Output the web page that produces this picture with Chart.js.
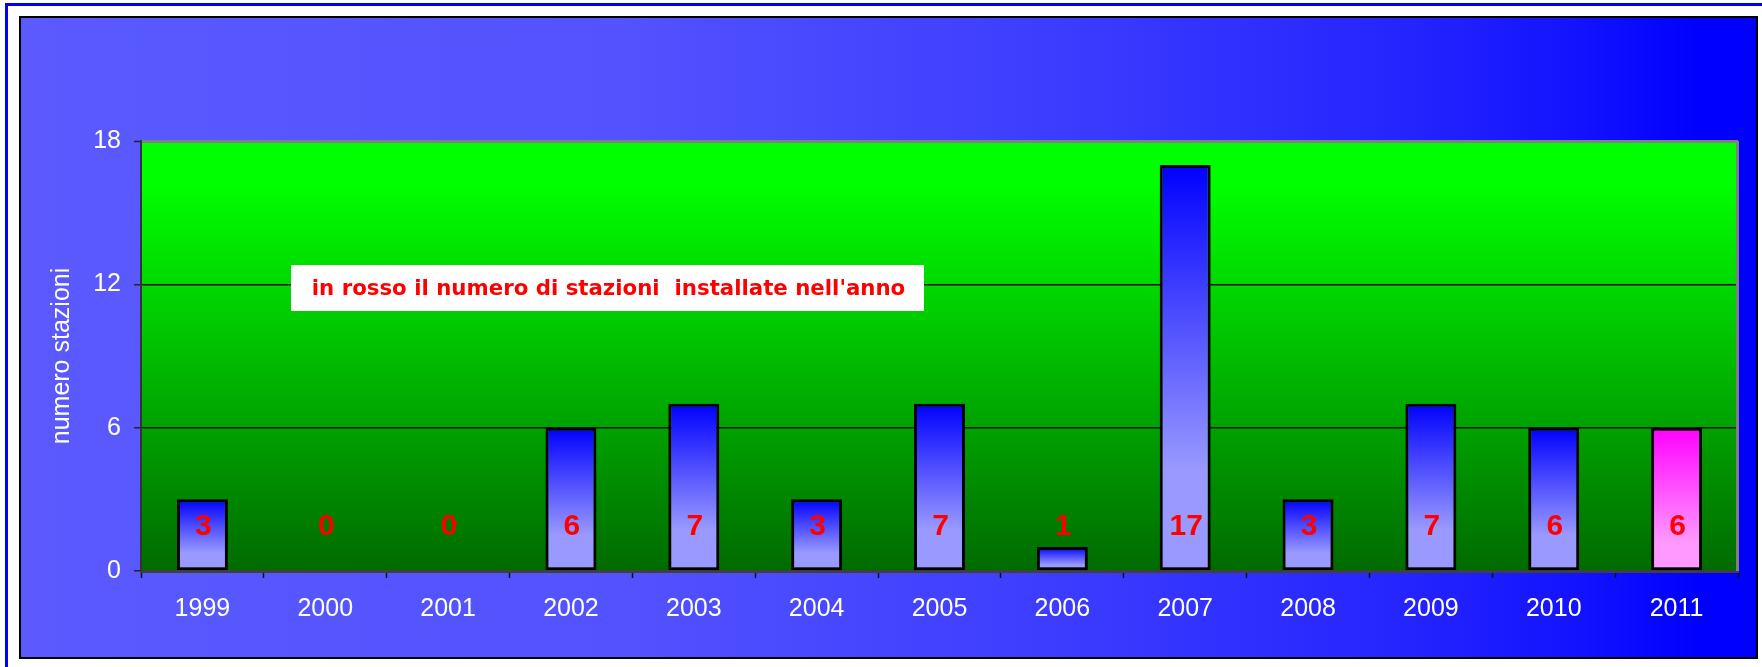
<!DOCTYPE html>
<html>
<head>
<meta charset="utf-8">
<script src="https://cdn.jsdelivr.net/npm/chart.js@4.4.1/dist/chart.umd.min.js"></script>
<style>
html, body { margin: 0; padding: 0; background: #fff; }
#wrap { width: 1762px; height: 667px; }
</style>
</head>
<body>
<div id="wrap"><canvas id="stazioniChart" width="1762" height="667"></canvas></div>
<script>
const anni = ['1999', '2000', '2001', '2002', '2003', '2004', '2005', '2006', '2007', '2008', '2009', '2010', '2011'];
const stazioni = [3, 0, 0, 6, 7, 3, 7, 1, 17, 3, 7, 6, 6];
const yTicks = [0, 6, 12, 18];
const titoloY = 'numero stazioni';
const nota = "in rosso il numero di stazioni  installate nell'anno";

const fontAssi = '"Liberation Sans", Arial, sans-serif';
const livelloEtichette = 1.85; // height (in axis units) where the red numbers sit

function barGradient(c) {
    let chart = c.chart;
    if (!chart.chartArea) return '#0000ff';
    let y = chart.scales.y;
    let top = y.getPixelForValue(stazioni[c.dataIndex]);
    let bottom = y.getPixelForValue(0);
    if (bottom - top < 1) top = bottom - 1;
    let g = chart.ctx.createLinearGradient(0, top, 0, bottom);
    if (c.dataIndex === anni.length - 1) {
        g.addColorStop(0, '#ff00ff');
        g.addColorStop(0.8, '#ff99ff');
        g.addColorStop(1, '#ff99ff');
    } else {
        g.addColorStop(0, '#0000ff');
        g.addColorStop(0.75, '#9999ff');
        g.addColorStop(1, '#9999ff');
    }
    return g;
}

const sfondo = {
    id: 'sfondo',
    beforeDraw(chart) {
        let ctx = chart.ctx;
        let a = chart.chartArea;
        ctx.save();
        ctx.fillStyle = '#ffffff';
        ctx.fillRect(0, 0, chart.width, chart.height);
        // outer blue frame
        ctx.strokeStyle = '#0000ff';
        ctx.lineWidth = 3;
        ctx.beginPath();
        ctx.moveTo(6.5, chart.height);
        ctx.lineTo(6.5, 4.5);
        ctx.lineTo(chart.width, 4.5);
        ctx.stroke();
        // blue panel
        let g = ctx.createLinearGradient(20, 0, 1757, 0);
        g.addColorStop(0, '#5a5aff');
        g.addColorStop(0.35, '#5252ff');
        g.addColorStop(0.6, '#3c3cff');
        g.addColorStop(0.8, '#2424ff');
        g.addColorStop(0.9, '#1212ff');
        g.addColorStop(0.965, '#0000ff');
        g.addColorStop(1, '#0000ff');
        ctx.fillStyle = g;
        ctx.fillRect(20, 17, 1737, 641);
        ctx.strokeStyle = '#000';
        ctx.lineWidth = 2;
        ctx.strokeRect(20, 17, 1737, 641);
        // plot area
        let gv = ctx.createLinearGradient(0, a.top, 0, a.bottom);
        gv.addColorStop(0, '#00ff00');
        gv.addColorStop(0.1, '#00ff00');
        gv.addColorStop(1, '#006a00');
        ctx.fillStyle = gv;
        ctx.fillRect(a.left, a.top, a.right - a.left, a.bottom - a.top);
        ctx.restore();
    },
    afterDatasetsDraw(chart) {
        let ctx = chart.ctx;
        let a = chart.chartArea;
        let x = chart.scales.x;
        let y = chart.scales.y;
        ctx.save();
        // right border of plot area
        ctx.strokeStyle = '#808080';
        ctx.lineWidth = 3;
        ctx.beginPath();
        ctx.moveTo(a.right - 0.5, a.top);
        ctx.lineTo(a.right - 0.5, a.bottom);
        ctx.stroke();
        // red numbers
        ctx.fillStyle = '#ff0000';
        ctx.font = 'bold 30px ' + fontAssi;
        ctx.textAlign = 'center';
        ctx.textBaseline = 'middle';
        stazioni.forEach(function (v, i) {
            ctx.fillText(String(v), x.getPixelForValue(i) + 1, y.getPixelForValue(livelloEtichette));
        });
        // note box
        let bx = a.left + 150, by = a.top + 124, bw = 633, bh = 46;
        ctx.fillStyle = '#ffffff';
        ctx.fillRect(bx, by, bw, bh);
        ctx.fillStyle = '#ff0000';
        ctx.font = 'bold 21.3px "DejaVu Sans", Verdana, sans-serif';
        ctx.fillText(nota, bx + bw / 2 + 1, by + bh / 2 + 1, 598);
        ctx.restore();
    }
};

let chart = document.getElementById('stazioniChart').getContext('2d');
let myBarChart = new Chart(chart, {
    type: 'bar',
    data: {
        labels: anni,
        datasets: [{
            label: titoloY,
            data: stazioni,
            backgroundColor: barGradient,
            borderColor: '#000000',
            borderWidth: 3,
            borderSkipped: false,
            categoryPercentage: 1,
            barPercentage: 0.415
        }]
    },
    options: {
        responsive: false,
        animation: false,
        devicePixelRatio: 1,
        layout: { padding: { top: 141, left: 20, right: 24, bottom: 0 } },
        plugins: {
            legend: { display: false },
            tooltip: { enabled: false }
        },
        scales: {
            x: {
                afterFit: function (s) { s.height = 96; },
                grid: {
                    display: true,
                    drawOnChartArea: false,
                    drawTicks: true,
                    tickLength: 7,
                    tickColor: '#111',
                    tickWidth: 1.5
                },
                border: { display: true, color: '#404040', width: 3 },
                ticks: {
                    color: '#ffffff',
                    font: { family: fontAssi, size: 25 },
                    padding: 16,
                    maxRotation: 0
                }
            },
            y: {
                min: 0,
                max: yTicks[yTicks.length - 1],
                afterFit: function (s) { s.width = 121; },
                afterBuildTicks: function (s) {
                    s.ticks = yTicks.map(function (v) { return { value: v }; });
                },
                grid: {
                    color: function (c) { return c.tick && c.tick.value === 18 ? '#808080' : '#111'; },
                    lineWidth: function (c) { return c.tick && c.tick.value === 18 ? 3 : 1.5; },
                    tickLength: 7,
                    tickColor: '#222',
                    tickWidth: 1.5
                },
                border: { display: true, color: '#333', width: 2 },
                ticks: {
                    color: '#ffffff',
                    font: { family: fontAssi, size: 25 },
                    padding: 13
                },
                title: {
                    display: true,
                    text: titoloY,
                    color: '#ffffff',
                    font: { family: fontAssi, size: 25 },
                    padding: { top: 27, bottom: 0 }
                }
            }
        }
    },
    plugins: [sfondo]
});
</script>
</body>
</html>
